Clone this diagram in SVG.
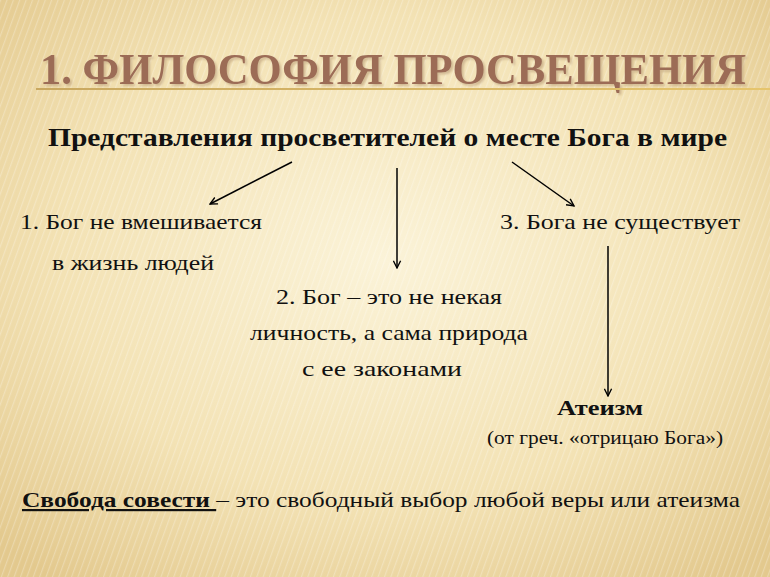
<svg xmlns="http://www.w3.org/2000/svg" width="770" height="577" viewBox="0 0 770 577">
<defs>
<radialGradient id="bg" cx="0.5" cy="0.45" r="0.7">
<stop offset="0" stop-color="#fbf3d8"/><stop offset="0.6" stop-color="#f3e2b4"/><stop offset="1" stop-color="#e3c98e"/>
</radialGradient>
<pattern id="st" width="6" height="6" patternUnits="userSpaceOnUse" patternTransform="rotate(20)">
<rect width="1.2" height="6" fill="#ffffff" opacity="0.25"/>
</pattern>
<marker id="ah" viewBox="0 0 10 10" refX="9" refY="5" markerWidth="9" markerHeight="9" orient="auto" markerUnits="userSpaceOnUse">
<path d="M1,1 L9,5 L1,9" fill="none" stroke="#000" stroke-width="1.5"/>
</marker>
<linearGradient id="ul" x1="0" x2="1"><stop offset="0" stop-color="#c9a860"/><stop offset="1" stop-color="#e6c56d"/></linearGradient>
<filter id="sh" x="-5%" y="-20%" width="110%" height="150%"><feDropShadow dx="2" dy="2" stdDeviation="1" flood-color="#c8ae88" flood-opacity="0.8"/></filter>
</defs>
<style>
text{font-family:"Liberation Serif","DejaVu Serif",serif;fill:#111}
.t{font-size:22px}
.b{font-weight:bold}
.c{stroke:#000;stroke-width:1.5;fill:none;marker-end:url(#ah)}
</style>
<rect width="770" height="577" fill="url(#bg)"/>
<rect width="770" height="577" fill="url(#st)"/>
<g id="title">
<text x="40" y="84" font-size="44" font-weight="bold" style="fill:#9c6c57" filter="url(#sh)" textLength="706" lengthAdjust="spacingAndGlyphs">1. ФИЛОСОФИЯ ПРОСВЕЩЕНИЯ</text>
<rect x="36" y="88" width="734" height="2" fill="url(#ul)"/>
</g>
<g id="root"><text x="48" y="146" font-size="25" class="b" textLength="679" lengthAdjust="spacingAndGlyphs">Представления просветителей о месте Бога в мире</text></g>
<g id="n1"><text x="20" y="229" class="t" textLength="242" lengthAdjust="spacingAndGlyphs">1. Бог не вмешивается</text>
<text x="52" y="270" class="t" textLength="162" lengthAdjust="spacingAndGlyphs">в жизнь людей</text></g>
<g id="n3"><text x="500" y="229" class="t" textLength="240" lengthAdjust="spacingAndGlyphs">3. Бога не существует</text></g>
<g id="n2">
<text x="276" y="304" class="t" textLength="226" lengthAdjust="spacingAndGlyphs">2. Бог – это не некая</text>
<text x="250" y="340" class="t" textLength="278" lengthAdjust="spacingAndGlyphs">личность, а сама природа</text>
<text x="302" y="376" class="t" textLength="160" lengthAdjust="spacingAndGlyphs">с ее законами</text></g>
<g id="atheism">
<text x="557" y="415" class="t b" textLength="86" lengthAdjust="spacingAndGlyphs">Атеизм</text>
<text x="487" y="444" font-size="18" textLength="236" lengthAdjust="spacingAndGlyphs">(от греч. «отрицаю Бога»)</text></g>
<g id="freedom"><text x="22" y="507" class="t" textLength="718" lengthAdjust="spacingAndGlyphs"><tspan class="b" text-decoration="underline">Свобода совести </tspan>– это свободный выбор любой веры или атеизма</text></g>
<g id="connectors">
<line class="c" x1="292" y1="162" x2="210" y2="204"/>
<line class="c" x1="397" y1="168" x2="397" y2="268"/>
<line class="c" x1="512" y1="162" x2="574" y2="206"/>
<line class="c" x1="608" y1="246" x2="608" y2="396"/>
</g>
</svg>
